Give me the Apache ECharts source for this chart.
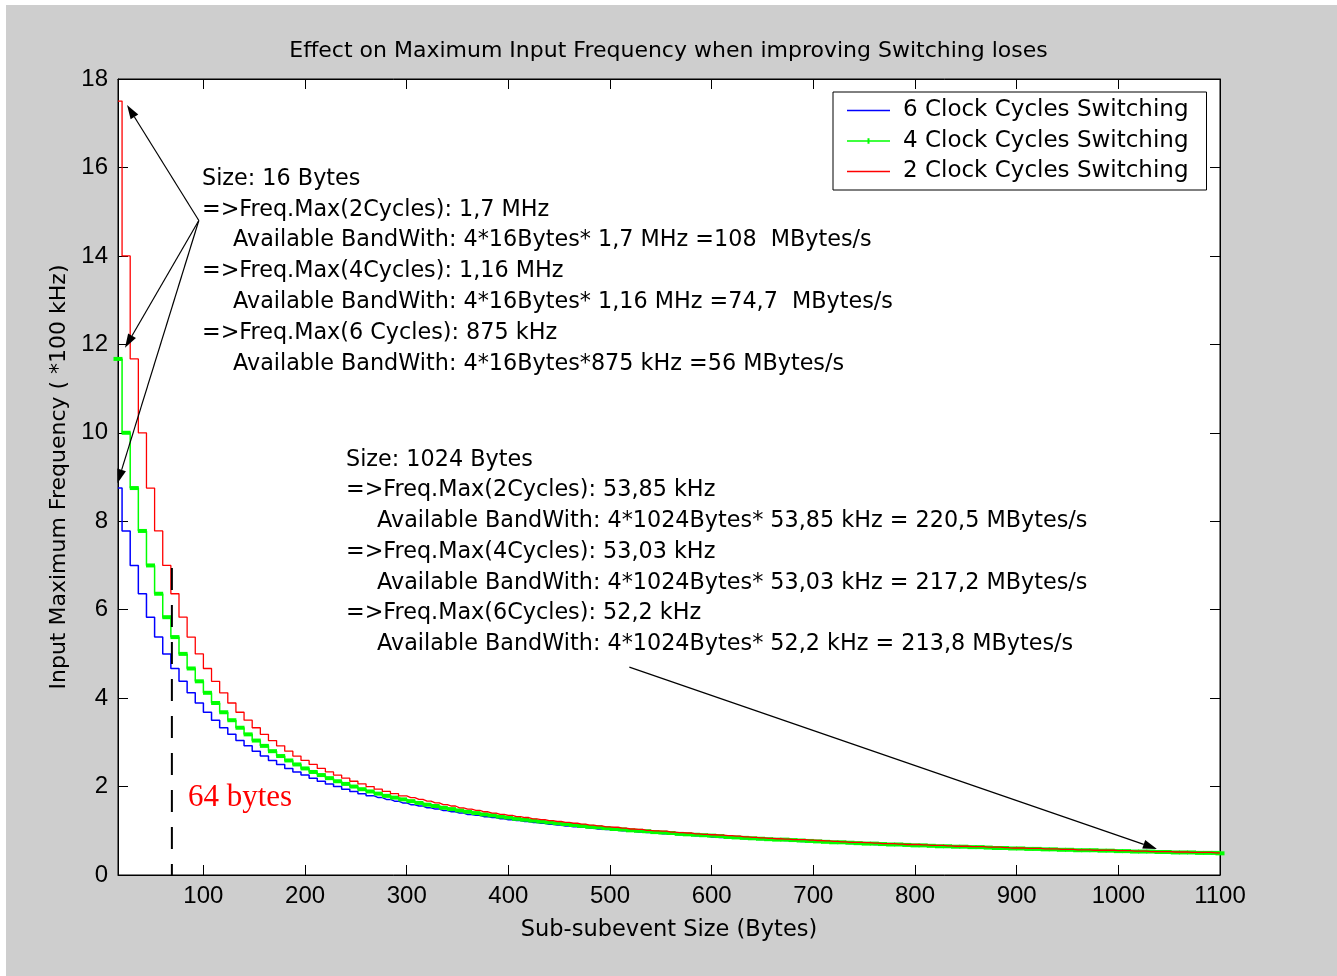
<!DOCTYPE html>
<html>
<head>
<meta charset="utf-8">
<title>Effect on Maximum Input Frequency</title>
<script src="https://cdn.jsdelivr.net/npm/echarts@6/dist/echarts.min.js"></script>
<style>
  html, body { margin: 0; padding: 0; background: #fff; }
  .frame { position: absolute; left: 6px; top: 5px; right: 0; bottom: 0; background: #cecece; }
  #chart { position: absolute; left: 0; top: 0; width: 1337px; height: 976px; }
</style>
</head>
<body>
<div class="frame"></div>
<div id="chart"></div>
<script>
  // sub-subevent size (bytes), one point per 8-byte step
  var sizes = [
    16, 24, 32, 40, 48, 56, 64, 72, 80, 88,
    96, 104, 112, 120, 128, 136, 144, 152, 160, 168,
    176, 184, 192, 200, 208, 216, 224, 232, 240, 248,
    256, 264, 272, 280, 288, 296, 304, 312, 320, 328,
    336, 344, 352, 360, 368, 376, 384, 392, 400, 408,
    416, 424, 432, 440, 448, 456, 464, 472, 480, 488,
    496, 504, 512, 520, 528, 536, 544, 552, 560, 568,
    576, 584, 592, 600, 608, 616, 624, 632, 640, 648,
    656, 664, 672, 680, 688, 696, 704, 712, 720, 728,
    736, 744, 752, 760, 768, 776, 784, 792, 800, 808,
    816, 824, 832, 840, 848, 856, 864, 872, 880, 888,
    896, 904, 912, 920, 928, 936, 944, 952, 960, 968,
    976, 984, 992, 1000, 1008, 1016, 1024, 1032, 1040, 1048,
    1056, 1064, 1072, 1080, 1088, 1096, 1100
  ];

  // max input frequency (*100 kHz)
  var freq6 = [
    8.75, 7.78, 7, 6.36, 5.83, 5.38, 5, 4.67, 4.38, 4.12,
    3.89, 3.68, 3.5, 3.33, 3.18, 3.04, 2.92, 2.8, 2.69, 2.59,
    2.5, 2.41, 2.33, 2.26, 2.19, 2.12, 2.06, 2, 1.94, 1.89,
    1.84, 1.79, 1.75, 1.71, 1.67, 1.63, 1.59, 1.56, 1.52, 1.49,
    1.46, 1.43, 1.4, 1.37, 1.35, 1.32, 1.3, 1.27, 1.25, 1.23,
    1.21, 1.19, 1.17, 1.15, 1.13, 1.11, 1.09, 1.08, 1.06, 1.04,
    1.03, 1.01, 1, 0.99, 0.97, 0.96, 0.95, 0.93, 0.92, 0.91,
    0.9, 0.89, 0.88, 0.86, 0.85, 0.84, 0.83, 0.82, 0.81, 0.8,
    0.8, 0.79, 0.78, 0.77, 0.76, 0.75, 0.74, 0.74, 0.73, 0.72,
    0.71, 0.71, 0.7, 0.69, 0.69, 0.68, 0.67, 0.67, 0.66, 0.65,
    0.65, 0.64, 0.64, 0.63, 0.63, 0.62, 0.61, 0.61, 0.6, 0.6,
    0.59, 0.59, 0.58, 0.58, 0.57, 0.57, 0.56, 0.56, 0.56, 0.55,
    0.55, 0.54, 0.54, 0.53, 0.53, 0.53, 0.52, 0.52, 0.51, 0.51,
    0.51, 0.5, 0.5, 0.5, 0.49, 0.49, 0.49
  ];
  var freq4 = [
    11.67, 10, 8.75, 7.78, 7, 6.36, 5.83, 5.38, 5, 4.67,
    4.38, 4.12, 3.89, 3.68, 3.5, 3.33, 3.18, 3.04, 2.92, 2.8,
    2.69, 2.59, 2.5, 2.41, 2.33, 2.26, 2.19, 2.12, 2.06, 2,
    1.94, 1.89, 1.84, 1.79, 1.75, 1.71, 1.67, 1.63, 1.59, 1.56,
    1.52, 1.49, 1.46, 1.43, 1.4, 1.37, 1.35, 1.32, 1.3, 1.27,
    1.25, 1.23, 1.21, 1.19, 1.17, 1.15, 1.13, 1.11, 1.09, 1.08,
    1.06, 1.04, 1.03, 1.01, 1, 0.99, 0.97, 0.96, 0.95, 0.93,
    0.92, 0.91, 0.9, 0.89, 0.88, 0.86, 0.85, 0.84, 0.83, 0.82,
    0.81, 0.8, 0.8, 0.79, 0.78, 0.77, 0.76, 0.75, 0.74, 0.74,
    0.73, 0.72, 0.71, 0.71, 0.7, 0.69, 0.69, 0.68, 0.67, 0.67,
    0.66, 0.65, 0.65, 0.64, 0.64, 0.63, 0.63, 0.62, 0.61, 0.61,
    0.6, 0.6, 0.59, 0.59, 0.58, 0.58, 0.57, 0.57, 0.56, 0.56,
    0.56, 0.55, 0.55, 0.54, 0.54, 0.53, 0.53, 0.53, 0.52, 0.52,
    0.51, 0.51, 0.51, 0.5, 0.5, 0.5, 0.49
  ];
  var freq2 = [
    17.5, 14, 11.67, 10, 8.75, 7.78, 7, 6.36, 5.83, 5.38,
    5, 4.67, 4.38, 4.12, 3.89, 3.68, 3.5, 3.33, 3.18, 3.04,
    2.92, 2.8, 2.69, 2.59, 2.5, 2.41, 2.33, 2.26, 2.19, 2.12,
    2.06, 2, 1.94, 1.89, 1.84, 1.79, 1.75, 1.71, 1.67, 1.63,
    1.59, 1.56, 1.52, 1.49, 1.46, 1.43, 1.4, 1.37, 1.35, 1.32,
    1.3, 1.27, 1.25, 1.23, 1.21, 1.19, 1.17, 1.15, 1.13, 1.11,
    1.09, 1.08, 1.06, 1.04, 1.03, 1.01, 1, 0.99, 0.97, 0.96,
    0.95, 0.93, 0.92, 0.91, 0.9, 0.89, 0.88, 0.86, 0.85, 0.84,
    0.83, 0.82, 0.81, 0.8, 0.8, 0.79, 0.78, 0.77, 0.76, 0.75,
    0.74, 0.74, 0.73, 0.72, 0.71, 0.71, 0.7, 0.69, 0.69, 0.68,
    0.67, 0.67, 0.66, 0.65, 0.65, 0.64, 0.64, 0.63, 0.63, 0.62,
    0.61, 0.61, 0.6, 0.6, 0.59, 0.59, 0.58, 0.58, 0.57, 0.57,
    0.56, 0.56, 0.56, 0.55, 0.55, 0.54, 0.54, 0.53, 0.53, 0.53,
    0.52, 0.52, 0.51, 0.51, 0.51, 0.5, 0.5
  ];

  var seriesNames = ['6 Clock Cycles Switching', '4 Clock Cycles Switching', '2 Clock Cycles Switching'];
  var xTicks = [100, 200, 300, 400, 500, 600, 700, 800, 900, 1000, 1100];

  // annotation text
  var note16 = [
    'Size: 16 Bytes',
    '=>Freq.Max(2Cycles): 1,7 MHz',
    'Available BandWith: 4*16Bytes* 1,7 MHz =108  MBytes/s',
    '=>Freq.Max(4Cycles): 1,16 MHz',
    'Available BandWith: 4*16Bytes* 1,16 MHz =74,7  MBytes/s',
    '=>Freq.Max(6 Cycles): 875 kHz',
    'Available BandWith: 4*16Bytes*875 kHz =56 MBytes/s'
  ];
  var note1024 = [
    'Size: 1024 Bytes',
    '=>Freq.Max(2Cycles): 53,85 kHz',
    'Available BandWith: 4*1024Bytes* 53,85 kHz = 220,5 MBytes/s',
    '=>Freq.Max(4Cycles): 53,03 kHz',
    'Available BandWith: 4*1024Bytes* 53,03 kHz = 217,2 MBytes/s',
    '=>Freq.Max(6Cycles): 52,2 kHz',
    'Available BandWith: 4*1024Bytes* 52,2 kHz = 213,8 MBytes/s'
  ];
  // arrow ends in data units [bytes, *100kHz]
  var arrow16From = [95.5, 14.8];
  var arrow16To = [[24.9, 17.41], [22.9, 11.92], [15.5, 8.86]];
  var arrow1024 = [[519, 4.7], [1038, 0.59]];
  var marker64 = [[69, 6.94], [69, 0]];

  var FONT = 'DejaVu Sans';
  // legend icons: plain line, line with a small dot marker
  var LINE_ICON = 'path://M0,0h86v3h-86z';
  var DOT_ICON = 'path://M0,4h86v3h-86z M41,0h4v11h-4z';

  function pairs(ys) {
    return sizes.map(function (s, i) { return [s, ys[i]]; });
  }

  var chart = echarts.init(document.getElementById('chart'), null, { renderer: 'canvas' });

  var axisBase = {
    type: 'value',
    axisLine: { show: true, onZero: false, lineStyle: { color: '#000', width: 1 } },
    axisTick: { show: true, inside: true, length: 10, lineStyle: { color: '#000', width: 1 } },
    splitLine: { show: false }
  };

  var option = {
    animation: false,
    backgroundColor: 'transparent',
    title: {
      text: 'Effect on Maximum Input Frequency when improving Switching loses',
      left: 'center',
      top: 38,
      padding: 0,
      textStyle: { fontFamily: FONT, fontSize: 22, fontWeight: 'normal', color: '#000', lineHeight: 26 }
    },
    legend: {
      orient: 'vertical',
      left: 833,
      top: 92,
      padding: [7, 18, 7, 14],
      itemGap: 7.5,
      itemWidth: 43,
      itemHeight: 14,
      backgroundColor: '#fff',
      borderColor: '#000',
      borderWidth: 1,
      borderRadius: 0,
      selectedMode: false,
      data: [
        { name: seriesNames[0], icon: LINE_ICON },
        { name: seriesNames[1], icon: DOT_ICON },
        { name: seriesNames[2], icon: LINE_ICON }
      ],
      textStyle: { fontFamily: FONT, fontSize: 23, lineHeight: 23, color: '#000', padding: [0, 0, 0, 8] }
    },
    grid: {
      left: 118, top: 79, right: 117, bottom: 101,
      show: true, backgroundColor: '#fff', borderColor: '#000', borderWidth: 1
    },
    xAxis: [
      Object.assign({}, axisBase, {
        position: 'bottom', min: 16, max: 1100,
        axisTick: Object.assign({}, axisBase.axisTick, { customValues: xTicks }),
        axisLabel: {
          customValues: xTicks, color: '#000', fontFamily: 'Liberation Sans', fontSize: 24, margin: 9,
          formatter: function (v) { return String(v); }
        },
        name: 'Sub-subevent Size (Bytes)',
        nameLocation: 'middle',
        nameGap: 44,
        nameTextStyle: { fontFamily: FONT, fontSize: 22.5, color: '#000' }
      }),
      Object.assign({}, axisBase, {
        position: 'top', min: 16, max: 1100,
        axisTick: Object.assign({}, axisBase.axisTick, { customValues: xTicks }),
        axisLabel: { show: false }
      })
    ],
    yAxis: [
      Object.assign({}, axisBase, {
        position: 'left', min: 0, max: 18, interval: 2,
        axisLabel: { color: '#000', fontFamily: 'Liberation Sans', fontSize: 24, margin: 10 },
        name: 'Input Maximum Frequency ( *100 kHz)',
        nameLocation: 'middle',
        nameGap: 46,
        nameTextStyle: { fontFamily: FONT, fontSize: 22, color: '#000' }
      }),
      Object.assign({}, axisBase, {
        position: 'right', min: 0, max: 18, interval: 2,
        axisLabel: { show: false }
      })
    ],
    series: [
      {
        name: seriesNames[0], type: 'line', step: 'middle', silent: true, z: 2,
        data: pairs(freq6), symbol: 'none',
        lineStyle: { color: '#0000ff', width: 1.5 }, itemStyle: { color: '#0000ff' }
      },
      {
        name: seriesNames[1], type: 'line', step: 'middle', silent: true, z: 3,
        data: pairs(freq4), symbol: 'rect', symbolSize: [9, 4], showAllSymbol: true,
        lineStyle: { color: '#00ff00', width: 1.5 }, itemStyle: { color: '#00ff00', borderWidth: 0 }
      },
      {
        // drawn last so it sits on top of the green band
        name: seriesNames[2], type: 'line', step: 'middle', silent: true, z: 5,
        data: pairs(freq2), symbol: 'none',
        lineStyle: { color: '#ff0000', width: 1.3 }, itemStyle: { color: '#ff0000' }
      }
    ]
  };
  chart.setOption(option);

  // annotations: arrows, 64 byte marker and text blocks
  function px(p) { return chart.convertToPixel({ gridIndex: 0 }, p); }

  function arrow(from, to) {
    var a = px(from), b = px(to);
    var dx = b[0] - a[0], dy = b[1] - a[1];
    var len = Math.sqrt(dx * dx + dy * dy);
    var ux = dx / len, uy = dy / len;
    var hl = 14, hw = 4.5;
    var bx = b[0] - ux * hl, by = b[1] - uy * hl;
    return [
      { type: 'line', z: 100, silent: true,
        shape: { x1: a[0], y1: a[1], x2: bx, y2: by },
        style: { stroke: '#000', lineWidth: 1.2 } },
      { type: 'polygon', z: 100, silent: true,
        shape: { points: [[b[0], b[1]], [bx - uy * hw, by + ux * hw], [bx + uy * hw, by - ux * hw]] },
        style: { fill: '#000' } }
    ];
  }

  function textBlock(lines, x, y0, step) {
    return lines.map(function (t, i) {
      var indent = t.indexOf('Available') === 0 ? 31 : 0;
      return {
        type: 'text', z: 100, silent: true,
        x: x + indent, y: y0 + i * step,
        style: { text: t, fontFamily: FONT, fontSize: 22.3, fill: '#000', align: 'left', verticalAlign: 'middle' }
      };
    });
  }

  var g = [];
  arrow16To.forEach(function (t) { g = g.concat(arrow(arrow16From, t)); });
  g = g.concat(arrow(arrow1024[0], arrow1024[1]));

  var m0 = px(marker64[0]), m1 = px(marker64[1]);
  g.push({
    type: 'line', z: 100, silent: true,
    shape: { x1: m0[0], y1: m0[1], x2: m1[0], y2: m1[1] },
    style: { stroke: '#000', lineWidth: 2, lineDash: [22, 15] }
  });
  g.push({
    type: 'text', z: 100, silent: true, x: 188, y: 798,
    style: { text: '64 bytes', fontFamily: 'Liberation Serif', fontSize: 31, fill: '#ff0000', verticalAlign: 'middle' }
  });

  g = g.concat(textBlock(note16, 202, 179, 30.8));
  g = g.concat(textBlock(note1024, 346, 460, 30.7));

  chart.setOption({ graphic: g });
</script>
</body>
</html>
